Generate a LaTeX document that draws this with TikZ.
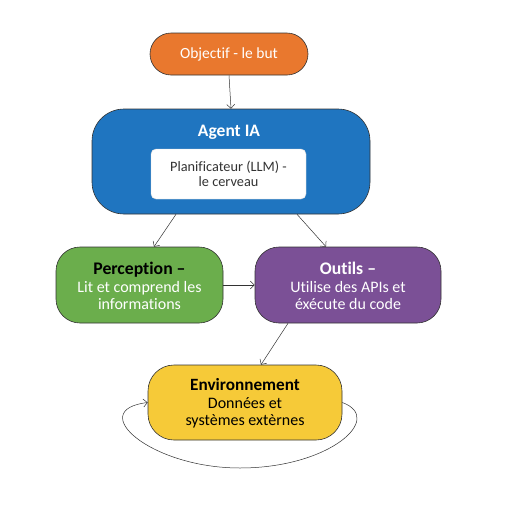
\documentclass[tikz,border=0pt]{standalone}
\usepackage{fontspec}
\setmainfont[Ligatures=NoCommon]{Carlito}
\usetikzlibrary{arrows.meta}
\definecolor{cobj}{HTML}{E9782E}
\definecolor{cagent}{HTML}{1F75C0}
\definecolor{cperc}{HTML}{6BAE4C}
\definecolor{coutil}{HTML}{7B5096}
\definecolor{cenv}{HTML}{F6CA38}
\definecolor{cline}{HTML}{333333}
\begin{document}
\begin{tikzpicture}[x=1pt,y=-1pt,
  box/.style={draw=cline, line width=0.6pt, inner sep=0pt, align=center},
  arr/.style={-{Straight Barb[length=4pt,width=8pt]}, line width=0.5pt, draw=cline},
  txt/.style={font=\fontsize{16}{17.5}\selectfont}]
\fill[white] (0,0) rectangle (512,512);
\useasboundingbox (0,0) rectangle (512,512);

\node[box, fill=cobj, text=white, minimum width=158, minimum height=42, rounded corners=21, font=\fontsize{15.5}{17}\selectfont] (obj) at (229,54) {Objectif - le but};

\node[box, fill=cagent, minimum width=278, minimum height=105, rounded corners=32] (agent) at (231,161.5) {};
\node[text=white, font=\fontsize{17.5}{18}\selectfont\bfseries] (agentT) at (229,132) {Agent IA};
\node[fill=white, draw=black!15, line width=0.4pt, rounded corners=5, minimum width=155, minimum height=50, inner sep=0pt, align=center, text=black!80, font=\fontsize{14.3}{15.5}\selectfont] (plan) at (228.5,174) {Planificateur (LLM) -\\le cerveau};

\node[box, fill=cperc, minimum width=167, minimum height=76, rounded corners=24] (perc) at (139.5,285) {};
\node[txt, align=center] (percT) at (139.5,286) {{\fontsize{17.7}{17.5}\selectfont\bfseries Perception –}\\\textcolor{white}{Lit et comprend les}\\\textcolor{white}{informations}};

\node[box, fill=coutil, minimum width=186, minimum height=76, rounded corners=24] (outil) at (348,285) {};
\node[txt, align=center, text=white] (outilT) at (348,286) {{\fontsize{17.7}{17.5}\selectfont\bfseries Outils –}\\Utilise des APIs et\\éxécute du code};

\node[box, fill=cenv, minimum width=194, minimum height=75, rounded corners=26] (env) at (245,402.5) {};
\node[txt, align=center, text=black] (envT) at (245,403.5) {{\fontsize{17.2}{17.5}\selectfont\bfseries Environnement}\\Données et\\systèmes extèrnes};

\draw[arr] (obj.south) -- (agent.north);
\draw[arr] ([xshift=-55]agent.south) -- ([xshift=14.5]perc.north);
\draw[arr] ([xshift=66]agent.south) -- ([xshift=-22]outil.north);
\draw[arr] (perc.east) -- (outil.west);
\draw[arr] ([xshift=-60]outil.south) -- ([xshift=16]env.north);
\draw[arr] (env.east) .. controls (385,418) and (330,468) .. (240,468)
  .. controls (150,468) and (85,410) .. (env.west);
\end{tikzpicture}
\end{document}
